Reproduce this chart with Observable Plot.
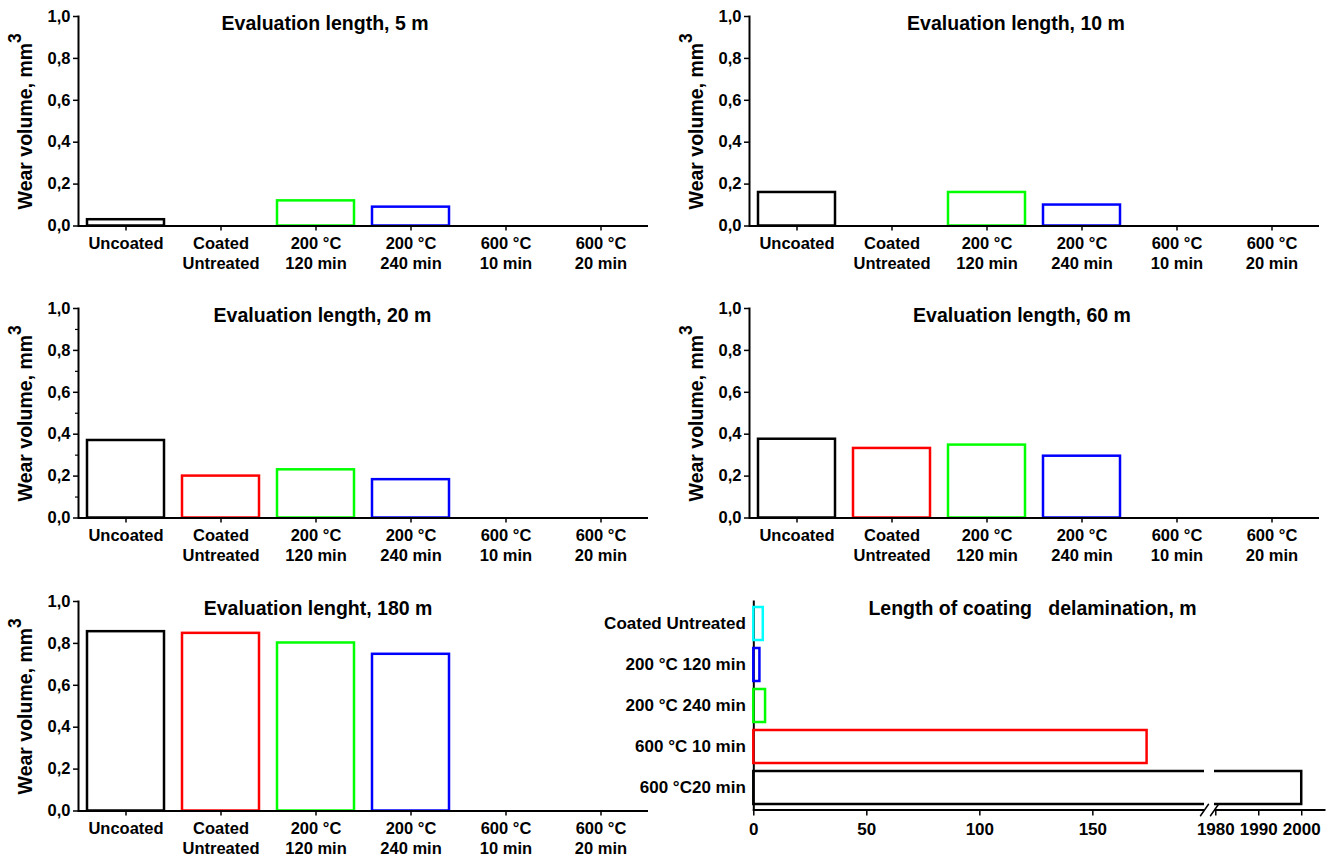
<!DOCTYPE html>
<html>
<head>
<meta charset="utf-8">
<script src="https://cdn.jsdelivr.net/npm/d3@7"></script>
<script src="https://cdn.jsdelivr.net/npm/@observablehq/plot@0.6"></script>
<style>
  body { margin: 0; background: #fff; }
  #chart { position: relative; width: 1339px; height: 856px; overflow: hidden; background: #fff; }
  .panel { position: absolute; }
  .panel svg { overflow: visible; }
</style>
</head>
<body>
<div id="chart"></div>
<script>
// ---------- data ----------
const categories = ["Uncoated", "Coated Untreated", "200 °C 120 min", "200 °C 240 min", "600 °C 10 min", "600 °C 20 min"];
const tickLabels = ["Uncoated", "Coated\nUntreated", "200 °C\n120 min", "200 °C\n240 min", "600 °C\n10 min", "600 °C\n20 min"];
const barColors = ["#000000", "#ff0000", "#00ff00", "#0000ff", "#000000", "#000000"];

const wear5m   = [0.03,  null,  0.12,  0.09,  null, null];
const wear10m  = [0.16,  null,  0.16,  0.10,  null, null];
const wear20m  = [0.37,  0.20,  0.23,  0.183, null, null];
const wear60m  = [0.376, 0.332, 0.348, 0.295, null, null];
const wear180m = [0.856, 0.848, 0.802, 0.748, null, null];

const panelTitles = ["Evaluation length, 5 m", "Evaluation length, 10 m", "Evaluation length, 20 m", "Evaluation length, 60 m", "Evaluation lenght, 180 m"];
const yTitle = "Wear volume, mm3";
const yTicks = [0, 0.2, 0.4, 0.6, 0.8, 1.0];
const yMinorTicks = [0.1, 0.3, 0.5, 0.7, 0.9];

const delamCategories = ["Coated Untreated", "200 °C 120 min", "200 °C 240 min", "600 °C 10 min", "600 °C20 min"];
const delamLength = [4.2, 2.7, 5.2, 174, 2000];
const delamColors = ["#00ffff", "#0000ff", "#00ff00", "#ff0000", "#000000"];
const delamTicks = [0, 50, 100, 150, 1980, 1990, 2000];
const axisBreak = [199.4, 1979.7];
const delamTitle = "Length of coating\u00a0\u00a0\u00a0delamination, m";

// ---------- layout ----------
const FONT = '"Liberation Sans", Arial, Helvetica, sans-serif';
const layout = [
  {values: wear5m,   title: panelTitles[0], left: 0,   top: 0,   titleDx: -38.5, minor: false},
  {values: wear10m,  title: panelTitles[1], left: 671, top: 0,   titleDx: -18.5, minor: false},
  {values: wear20m,  title: panelTitles[2], left: 0,   top: 292, titleDx: -41,   minor: true},
  {values: wear60m,  title: panelTitles[3], left: 671, top: 292, titleDx: -12.5, minor: false},
  {values: wear180m, title: panelTitles[4], left: 0,   top: 585, titleDx: -45.5, minor: false}
];

const fmt = d => d.toFixed(1).replace(".", ",");
const chart = document.getElementById("chart");

function addSuperscript(svg) {
  svg.querySelectorAll("text").forEach(t => {
    if (t.textContent === yTitle) {
      t.textContent = "";
      const ns = "http://www.w3.org/2000/svg";
      const a = document.createElementNS(ns, "tspan");
      a.textContent = yTitle.slice(0, -1);
      const b = document.createElementNS(ns, "tspan");
      b.textContent = yTitle.slice(-1);
      b.setAttribute("dy", "-0.6em");
      b.setAttribute("font-size", "0.9em");
      t.appendChild(a); t.appendChild(b);
    }
  });
}

function place(node, left, top) {
  const d = document.createElement("div");
  d.className = "panel";
  d.style.left = left + "px";
  d.style.top = top + "px";
  d.appendChild(node);
  chart.appendChild(d);
}

layout.forEach(p => {
  const data = categories.map((c, i) => ({cat: c, v: p.values[i], color: barColors[i]})).filter(d => d.v != null);
  const plot = Plot.plot({
    width: 660, height: 290,
    marginLeft: 78, marginRight: 12, marginTop: 16, marginBottom: 64.5,
    style: {fontFamily: FONT, fontWeight: "bold", fontSize: "16.5px", color: "#000", background: "transparent", overflow: "visible"},
    x: {type: "band", domain: categories, range: [78, 648], paddingInner: 0.19, paddingOuter: 0.095, label: null},
    y: {domain: [0, 1], label: null},
    color: {type: "identity"},
    marks: [
      Plot.barY(data, {x: "cat", y: "v", fill: "none", stroke: "color", strokeWidth: 2.5}),
      Plot.ruleY([0], {strokeWidth: 2}),
      Plot.frame({anchor: "left", strokeWidth: 2}),
      Plot.axisX({tickSize: 5, tickPadding: 4, tickFormat: c => tickLabels[categories.indexOf(c)], lineHeight: 1.22, fontSize: 16.5, strokeWidth: 1.5}),
      Plot.axisY({ticks: yTicks, tickSize: 5, tickPadding: 3, tickFormat: fmt, fontSize: 16.5, strokeWidth: 1.5}),
      p.minor ? Plot.axisY({ticks: yMinorTicks, tickSize: 3, tickFormat: () => "", strokeWidth: 1.2}) : null,
      Plot.text([yTitle], {frameAnchor: "left", textAnchor: "middle", lineAnchor: "middle", rotate: -90, dx: -53, fontSize: 19.5, fontWeight: "bold"}),
      Plot.text([p.title], {frameAnchor: "top", dx: p.titleDx, fontSize: 19.5, fontWeight: "bold"})
    ]
  });
  addSuperscript(plot);
  place(plot, p.left, p.top);
});

// ---------- delamination panel ----------
const delamData = delamCategories.map((c, i) => ({cat: c, v: delamLength[i], color: delamColors[i]}));
const breakShape = {draw(context, l) { context.moveTo(0, 0); context.lineTo(0, -l); }};
const delamPlot = Plot.plot({
  width: 749, height: 271,
  marginLeft: 163.3, marginRight: 15, marginTop: 16, marginBottom: 46.5,
  style: {fontFamily: FONT, fontWeight: "bold", fontSize: "16.5px", color: "#000", background: "transparent", overflow: "visible"},
  x: {type: "linear", domain: [0, axisBreak[0], axisBreak[1], 2005.3], range: [163.3, 614, 624, 734], label: null},
  y: {type: "band", domain: delamCategories, paddingInner: 0.19, paddingOuter: 0.095, label: null},
  color: {type: "identity"},
  marks: [
    Plot.frame({anchor: "bottom", strokeWidth: 2}),
    Plot.frame({anchor: "left", strokeWidth: 2}),
    Plot.barX(delamData, {y: "cat", x: "v", fill: "none", stroke: "color", strokeWidth: 2.5}),
    Plot.barX([axisBreak], {x1: d => d[0], x2: d => d[1], y: () => delamCategories[delamCategories.length - 1], fill: "white", insetTop: -5, insetBottom: -8}),
    Plot.vector(axisBreak, {x: d => d, frameAnchor: "bottom", length: 14, rotate: 35, anchor: "middle", shape: breakShape, stroke: "black", strokeWidth: 1.5}),
    Plot.axisX({ticks: delamTicks, tickSize: 6, tickPadding: 7, tickFormat: d => String(d), fontSize: 17, strokeWidth: 1.5}),
    Plot.axisY({tickSize: 0, tickPadding: 8, fontSize: 17}),
    Plot.text([delamTitle], {frameAnchor: "top", dx: -6.6, fontSize: 19.5, fontWeight: "bold"})
  ]
});
place(delamPlot, 590, 585);
</script>
</body>
</html>
